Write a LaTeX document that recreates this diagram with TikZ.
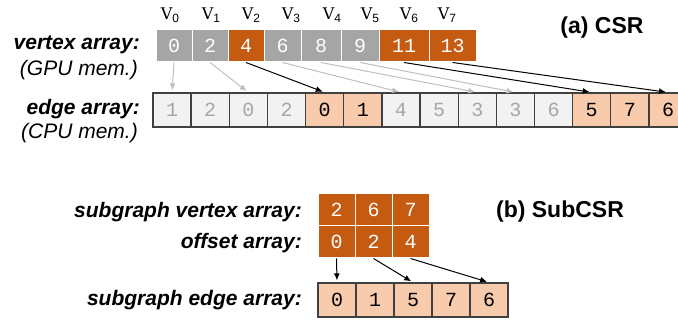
\documentclass[tikz,border=0pt]{standalone}
\usepackage{fontspec}
\setmainfont{Liberation Sans}
\newfontfamily\cellfont{Liberation Mono}
\newfontfamily\vfont{DejaVu Serif}
\usetikzlibrary{arrows.meta}
\definecolor{csrOrange}{HTML}{C55A11}
\definecolor{csrGray}{HTML}{A5A5A5}
\definecolor{csrPeach}{HTML}{F8CBAD}
\definecolor{csrLight}{HTML}{F2F2F2}
\definecolor{csrLine}{HTML}{404040}
\definecolor{csrFaint}{HTML}{A6A6A6}
\definecolor{csrPale}{HTML}{BFBFBF}
\newcommand{\vsub}[1]{\raisebox{-3pt}{\normalfont\fontsize{12}{12}\selectfont#1}}

\begin{document}
\begin{tikzpicture}[
  x=1pt, y=-1pt,
  vcell/.style={
    draw=white,
    line width=1pt,
    fill=#1,
    text=white,
    inner sep=0pt,
    minimum height=32pt,
    font=\cellfont\fontsize{20}{20}\selectfont
  },
  ecell/.style={
    draw=csrLine,
    line width=1.2pt,
    inner sep=0pt,
    minimum width=38pt,
    minimum height=34pt,
    font=\cellfont\fontsize{20}{20}\selectfont
  },
  hot/.style={fill=csrPeach,text=black},
  cold/.style={fill=csrLight,text=csrFaint},
  vname/.style={font=\vfont\fontsize{16}{16}\selectfont},
  rowlabel/.style={anchor=east,inner sep=0pt,font=\fontsize{21}{21}\selectfont\bfseries\itshape},
  memnote/.style={anchor=east,inner sep=0pt,font=\fontsize{21}{21}\selectfont\itshape},
  panel/.style={inner sep=0pt,font=\fontsize{23}{23}\selectfont\bfseries},
  ptr/.style={-{Latex[length=7pt,width=6pt]},line width=1pt,shorten >=2pt}
]
  \useasboundingbox (0,0) rectangle (678,320);

  % (a) CSR: vertex array on the GPU
  \foreach \i/\l/\r/\val/\col in {0/156/192/0/csrGray,1/192/228/2/csrGray,
      2/228/264/4/csrOrange,3/264/301/6/csrGray,4/301/341/8/csrGray,
      5/341/379/9/csrGray,6/379/429/11/csrOrange,7/429/476/13/csrOrange}
    \node[vcell=\col,minimum width=\r-\l] (v\i) at ({(\l+\r)/2},46) {\val};
  \foreach \i/\x in {0/170,1/211,2/251,3/291,4/332,5/370,6/409,7/447}
    \node[vname] (n\i) at (\x,15) {V\vsub{\i}};

  % edge array on the CPU
  \foreach \val/\kind [count=\k from 0] in {1/cold,2/cold,0/cold,2/cold,0/hot,1/hot,
      4/cold,5/cold,3/cold,3/cold,6/cold,5/hot,7/hot,6/hot}
    \node[ecell,\kind] (e\k) at ({153+38.15*(\k+0.5)},110) {\val};

  \foreach \i/\k/\col in {0/0/csrPale,1/2/csrPale,2/4/black,3/6/csrPale,
      4/8/csrPale,5/9/csrPale,6/11/black,7/13/black}
    \draw[ptr,\col] (v\i.south) -- (e\k.north);

  \node[rowlabel] (vlab) at (140,45) {vertex array:};
  \node[memnote] (gpu) at (138,70) {(GPU mem.)};
  \node[rowlabel] (elab) at (140,109) {edge array:};
  \node[memnote] (cpu) at (138,133) {(CPU mem.)};
  \node[panel] (csr) at (602,28) {(a) CSR};

  % (b) SubCSR
  \foreach \val [count=\k from 0] in {2,6,7}
    \node[vcell=csrOrange,minimum width=37pt] (sv\k) at ({318+37*(\k+0.5)},210) {\val};
  \foreach \val [count=\k from 0] in {0,2,4}
    \node[vcell=csrOrange,minimum width=37pt] (so\k) at ({318+37*(\k+0.5)},242) {\val};
  \foreach \val [count=\k from 0] in {0,1,5,7,6}
    \node[ecell,hot] (se\k) at ({318+38*(\k+0.5)},300) {\val};

  \draw[ptr] (so0.south) -- (se0.north);
  \draw[ptr] (so1.south) -- (se2.north);
  \draw[ptr] (so2.south) -- (se4.north);

  \node[rowlabel] (svlab) at (302,212) {subgraph vertex array:};
  \node[rowlabel] (olab) at (302,243) {offset array:};
  \node[rowlabel] (selab) at (302,300) {subgraph edge array:};
  \node[panel] (subcsr) at (560,212) {(b) SubCSR};
\end{tikzpicture}
\end{document}
